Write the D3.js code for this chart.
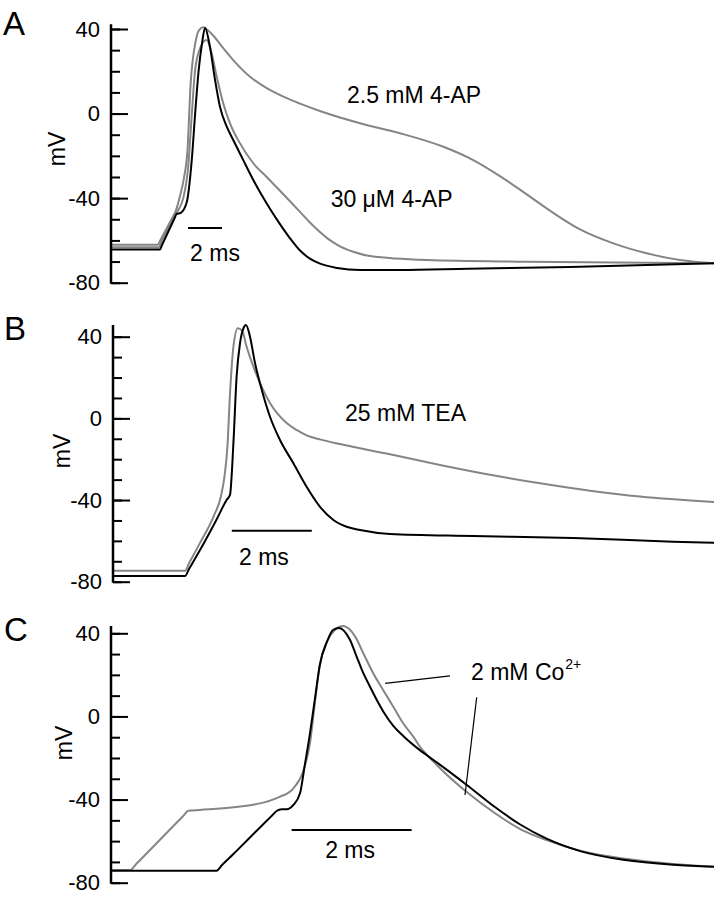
<!DOCTYPE html>
<html><head><meta charset="utf-8">
<script src="https://cdn.jsdelivr.net/npm/d3@7"></script>
<style>
body{margin:0;background:#fff}
svg{display:block}
text{font-family:"Liberation Sans",Arial,Helvetica,sans-serif;fill:#000}
</style>
</head><body>
<svg id="chart" width="714" height="900"></svg>
<script>
// ---------- data (time in ms, membrane potential in mV) ----------
const minorTicks = [40,30,20,10,0,-10,-20,-30,-40,-50,-60,-70,-80];
const majorTicks = [40,0,-40,-80];
const majorTickLabels = ["40","0","-40","-80"];
const panelLetters = ["A","B","C"];
const yUnit = "mV";
const scaleBarText = "2 ms";
const scaleBarMs = 2;

const aControl = [[0,-64.3],[2.88,-64.3],[3.0,-62.2],[3.75,-49.3],[3.85,-47.6],[4.1,-47.0],[4.45,-42.1],[4.75,-22],[4.95,0],[5.15,20],[5.35,33],[5.53,40.5],[5.82,31.6],[6.12,15.9],[6.41,3.2],[6.81,-6.2],[7.19,-12.5],[7.78,-22],[8.37,-31.4],[9.16,-42.5],[9.94,-52.3],[10.53,-59.0],[11.12,-64.8],[11.7,-68.6],[12.3,-71.0],[13.3,-73.0],[14.65,-74],[17,-74],[21,-73.4],[27,-72.6],[35.47,-70.8]];
const aAP25 = [[0,-62],[2.76,-62],[2.9,-59.9],[3.66,-48.5],[3.76,-47],[4.06,-39],[4.29,-30.5],[4.5,-17.2],[4.68,13.5],[4.97,33.8],[5.18,39.5],[5.44,40.8],[5.75,39.0],[6.02,36.8],[6.6,31.0],[7.19,25.3],[8.18,17.4],[9.16,12],[10.14,8],[11.12,4.7],[12.29,1.2],[14.65,-4.6],[17.0,-9.3],[19.55,-15.7],[21.31,-22],[22.88,-29.6],[24.45,-38.2],[26.02,-47.0],[27.59,-54.8],[29.55,-61.4],[31.51,-66.1],[33.47,-69.3],[35.47,-70.8]];
const aAP30 = [[0,-63.2],[2.82,-63.2],[2.95,-61],[3.7,-49],[3.8,-47.5],[4.0,-45],[4.25,-40],[4.55,-24.4],[4.75,-0.7],[4.94,20],[5.24,30.9],[5.45,34],[5.63,34.8],[5.92,28.5],[6.22,17.4],[6.6,4.9],[7.0,-4.6],[7.59,-14.1],[8.37,-23.5],[9.16,-30],[9.94,-36.5],[10.53,-41.5],[11.12,-46.5],[11.7,-51.5],[12.29,-56],[12.9,-60],[13.47,-62.8],[14.3,-65.5],[15.24,-67.4],[18.57,-69.3],[24.45,-70.1],[35.47,-70.8]];

const bControl = [[0,-77.2],[1.8,-77.2],[1.9,-73.8],[2.175,-64.5],[2.59,-49.5],[2.84,-40],[2.925,-37.5],[3.01,-12.2],[3.09,20.4],[3.175,36.8],[3.26,44.1],[3.325,45.7],[3.425,40],[3.55,27.1],[3.72,13.9],[3.925,0.8],[4.175,-10.6],[4.51,-22],[4.84,-33.5],[5.175,-43.3],[5.51,-49.8],[5.84,-53.1],[6.175,-54.7],[6.925,-56.6],[9.0,-57.6],[11.5,-58.6],[14.0,-60.4],[15.025,-60.9]];
const bTEA = [[0,-74.6],[1.8,-74.6],[1.9,-71.0],[2.175,-61.0],[2.51,-48.2],[2.7,-38],[2.79,-28],[2.86,-14],[2.925,12],[3.01,35],[3.12,44.1],[3.23,42.8],[3.34,35.1],[3.51,25.3],[3.675,17.3],[3.925,7.5],[4.34,-2.3],[4.6,-5.8],[4.84,-8.3],[5.2,-10.4],[5.675,-12.6],[6.925,-17.6],[8.175,-22.8],[9.425,-27.6],[10.675,-31.8],[11.925,-35.4],[13.175,-38.3],[15.025,-41.0]];

const cControl = [[0,-74.2],[1.76,-74.2],[1.85,-71.5],[2.04,-66.2],[2.32,-58.1],[2.6,-50.1],[2.68,-47.8],[2.76,-45.5],[2.845,-44.7],[2.93,-44.7],[3.04,-42.6],[3.15,-37],[3.23,-23.4],[3.32,-7.4],[3.4,8.7],[3.48,24.7],[3.6,36],[3.7,41.6],[3.8,42.6],[3.98,37],[4.095,28.7],[4.205,20.8],[4.317,14.3],[4.43,7.9],[4.54,2.3],[4.705,-4.5],[4.87,-9.4],[5.095,-15.0],[5.317,-19.8],[5.48,-23.2],[5.93,-33.0],[6.37,-43.0],[6.82,-52.0],[7.26,-58.8],[7.82,-64.8],[8.54,-69.0],[9.37,-71.4],[10.05,-72.3]];
const cCo = [[0,-73.9],[0.32,-73.9],[0.42,-71.0],[1.2,-48.0],[1.29,-45.4],[1.48,-45],[2.04,-43.7],[2.6,-41],[2.82,-38.6],[3.04,-34.6],[3.2,-26.6],[3.32,-12.2],[3.4,7.1],[3.48,24.7],[3.6,36],[3.73,41.6],[3.87,43.5],[4.07,38.4],[4.205,30.4],[4.37,20.8],[4.54,12.5],[4.705,4.7],[4.87,-3.3],[5.04,-9.8],[5.15,-14.6],[5.317,-20.0],[5.48,-24.8],[5.93,-36.4],[6.37,-46],[6.82,-54.2],[7.26,-59.5],[7.82,-64.6],[8.54,-68.4],[9.37,-71],[10.05,-72.3]];

// labels: [text, t(ms), V(mV)]
const aLabels = [["2.5 mM 4-AP",13.88,5.0],["30 \u03bcM 4-AP",12.92,-44.2]];
const bLabels = [["25 mM TEA",5.8,-1.3]];
const cLabels = [["2 mM Co",6.0,17.5]];
const cLabelSup = "2+";
// pointer lines [t1,V1,t2,V2]
const cPointers = [[4.57,15.9,5.65,19.5],[6.095,9.2,5.9,-37.8]];

// ---------- layout ----------
const W = 714;
const GRAY = "#858585";
const panels = [
  {letter:panelLetters[0], x0:111, pxPerMs:17, yTop:29, yBot:282.7, axTop:42.3,
   letterXY:[3,35], unitXY:[65,149],
   traces:[{d:aAP30,c:GRAY},{d:aAP25,c:GRAY},{d:aControl,c:"#000"}],
   bar:{t:4.53,v:-54.1,tt:4.65,tv:-69.7}, labels:aLabels},
  {letter:panelLetters[1], x0:113, pxPerMs:40, yTop:336.7, yBot:581.7, axTop:45.7,
   letterXY:[4,340], unitXY:[70,451],
   traces:[{d:bTEA,c:GRAY},{d:bControl,c:"#000"}],
   bar:{t:2.97,v:-55,tt:3.15,tv:-71.8}, labels:bLabels},
  {letter:panelLetters[2], x0:111, pxPerMs:60, yTop:633.3, yBot:882.7, axTop:43.5,
   letterXY:[4,641], unitXY:[72,743],
   traces:[{d:cCo,c:GRAY},{d:cControl,c:"#000"}],
   bar:{t:3.01,v:-54.7,tt:3.57,tv:-68.1}, labels:cLabels, pointers:cPointers, sup:true}
];

const svg = d3.select("#chart");

panels.forEach(p => {
  const x = d3.scaleLinear().domain([0,(W-p.x0)/p.pxPerMs]).range([p.x0,W]);
  const y = d3.scaleLinear().domain([-80,40]).range([p.yBot,p.yTop]);
  const g = svg.append("g");

  // traces
  const line = d3.line().x(d=>x(d[0])).y(d=>y(d[1])).curve(d3.curveMonotoneX);
  p.traces.forEach(tr => {
    g.append("path").attr("d",line(tr.d)).attr("fill","none")
      .attr("stroke",tr.c).attr("stroke-width",2).attr("stroke-linejoin","round");
  });

  // axis
  const minor = g.append("g").attr("transform",`translate(${p.x0},0)`)
    .call(d3.axisLeft(y).tickValues(minorTicks).tickSizeInner(-9).tickSizeOuter(0).tickFormat(""));
  const major = g.append("g").attr("transform",`translate(${p.x0},0)`)
    .call(d3.axisLeft(y).tickValues(majorTicks).tickSizeInner(-17).tickSizeOuter(0).tickPadding(11)
      .tickFormat((d,i)=>majorTickLabels[i]));
  [minor,major].forEach(ax=>{
    ax.select(".domain").remove();
    ax.selectAll("line").attr("stroke","#000").attr("stroke-width",2);
  });
  major.selectAll("text").attr("font-size",22).attr("font-family",'"Liberation Sans",Arial,sans-serif').attr("fill","#000");
  g.append("line").attr("x1",p.x0).attr("x2",p.x0).attr("y1",y(-80)+1).attr("y2",y(p.axTop))
    .attr("stroke","#000").attr("stroke-width",2.5);

  // unit label
  g.append("text").attr("transform",`translate(${p.unitXY[0]},${p.unitXY[1]}) rotate(-90)`)
    .attr("text-anchor","middle").attr("font-size",23).text(yUnit);
  // panel letter
  g.append("text").attr("x",p.letterXY[0]).attr("y",p.letterXY[1]).attr("font-size",33).text(p.letter);

  // scale bar
  g.append("line").attr("x1",x(p.bar.t)).attr("x2",x(p.bar.t+scaleBarMs))
    .attr("y1",y(p.bar.v)).attr("y2",y(p.bar.v)).attr("stroke","#000").attr("stroke-width",2);
  g.append("text").attr("x",x(p.bar.tt)).attr("y",y(p.bar.tv)).attr("font-size",23).text(scaleBarText);

  // labels
  p.labels.forEach(l => {
    const t = g.append("text").attr("x",x(l[1])).attr("y",y(l[2])).attr("font-size",23).text(l[0]);
    if (p.sup) {
      t.append("tspan").attr("dy",-11).attr("dx",1).attr("font-size",14).text(cLabelSup);
    }
  });
  if (p.pointers) {
    p.pointers.forEach(q => {
      g.append("line").attr("x1",x(q[0])).attr("y1",y(q[1])).attr("x2",x(q[2])).attr("y2",y(q[3]))
        .attr("stroke","#000").attr("stroke-width",1.2);
    });
  }
});
</script>
</body></html>
